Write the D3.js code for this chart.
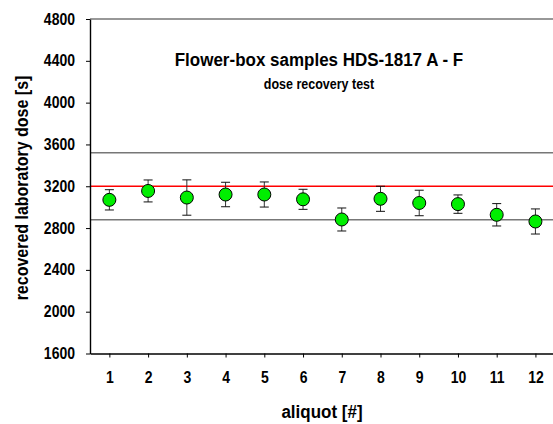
<!DOCTYPE html>
<html>
<head>
<meta charset="utf-8">
<script src="https://cdn.jsdelivr.net/npm/d3@7"></script>
<style>
  body { margin: 0; background: #fff; }
  text {
    font-family: Arial, "Liberation Sans", sans-serif;
    font-weight: bold;
    fill: #000;
  }
  /* police un peu étirée en hauteur */
  text:not(.ylab) {
    transform-box: fill-box;
    transform-origin: center;
    transform: scaleY(1.12);
  }
</style>
</head>
<body>
<div id="chart"></div>
<script>
// aliquots and recovered doses (s) with their errors
const aliquots = [1, 2, 3, 4, 5, 6, 7, 8, 9, 10, 11, 12];
const doses = [3070, 3155, 3092, 3121, 3121, 3075, 2882, 3080, 3040, 3029, 2927, 2863];
const errors = [97, 105, 169, 117, 120, 96, 110, 120, 122, 88, 107, 120];

// given dose and the +/-10% band
const givenDose = 3200;
const bandLines = [3520, 2880];

const yTicks = [1600, 2000, 2400, 2800, 3200, 3600, 4000, 4400, 4800];

const data = aliquots.map((a, i) => ({ aliquot: a, dose: doses[i], err: errors[i] }));

const W = 553, H = 424;
const margin = { top: 19, left: 90, bottom: 70.5 };
const plotW = 464.8;
const plotH = H - margin.top - margin.bottom;

const svg = d3.select("#chart")
  .append("svg")
  .attr("width", W)
  .attr("height", H);

const chart = svg.append("g")
  .attr("transform", `translate(${margin.left},${margin.top})`);

const x = d3.scaleLinear().domain([0.5, 12.5]).range([0, plotW]);
const y = d3.scaleLinear().domain([1600, 4800]).range([plotH, 0]);

//------ cadre haut
chart.append("line")
  .attr("x1", 0).attr("x2", plotW)
  .attr("y1", y(4800)).attr("y2", y(4800))
  .attr("stroke", "#333").attr("stroke-width", 1.2);

//------ lignes +/-10%
chart.selectAll(".band")
  .data(bandLines)
  .enter()
  .append("line")
  .attr("class", "band")
  .attr("x1", 0).attr("x2", plotW)
  .attr("y1", d => y(d)).attr("y2", d => y(d))
  .attr("stroke", "#777").attr("stroke-width", 1.6);

//------ dose donnée
chart.append("line")
  .attr("x1", 0).attr("x2", plotW)
  .attr("y1", y(givenDose)).attr("y2", y(givenDose))
  .attr("stroke", "#ff0000").attr("stroke-width", 1.6);

//------ axes
const yAxis = chart.append("g")
  .call(d3.axisLeft(y).tickValues(yTicks).tickSize(4).tickSizeOuter(0).tickPadding(11).tickFormat(d3.format("d")));
yAxis.select(".domain").attr("stroke-width", 1.4);
yAxis.selectAll("text").style("font-size", "14px");

const xAxis = chart.append("g")
  .attr("transform", `translate(0,${plotH})`)
  .call(d3.axisBottom(x).tickValues(aliquots).tickSize(4).tickSizeOuter(0).tickPadding(15).tickFormat(d3.format("d")));
xAxis.select(".domain").attr("stroke-width", 1.4);
xAxis.selectAll("text").style("font-size", "14px");

//------ barres d'erreur
const pts = chart.selectAll(".pt")
  .data(data)
  .enter()
  .append("g")
  .attr("class", "pt");

pts.append("line")
  .attr("x1", d => x(d.aliquot)).attr("x2", d => x(d.aliquot))
  .attr("y1", d => y(d.dose + d.err)).attr("y2", d => y(d.dose - d.err))
  .attr("stroke", "#333").attr("stroke-width", 1);

pts.selectAll(".cap")
  .data(d => [{ a: d.aliquot, v: d.dose + d.err }, { a: d.aliquot, v: d.dose - d.err }])
  .enter()
  .append("line")
  .attr("class", "cap")
  .attr("x1", d => x(d.a) - 4.5).attr("x2", d => x(d.a) + 4.5)
  .attr("y1", d => y(d.v)).attr("y2", d => y(d.v))
  .attr("stroke", "#111").attr("stroke-width", 1);

pts.append("circle")
  .attr("cx", d => x(d.aliquot))
  .attr("cy", d => y(d.dose))
  .attr("r", 6.5)
  .attr("fill", "#00ee00")
  .attr("stroke", "#000")
  .attr("stroke-width", 1);

//------ titres
svg.append("text")
  .attr("x", 319).attr("y", 65)
  .attr("text-anchor", "middle")
  .style("font-size", "17px")
  .text("Flower-box samples HDS-1817 A - F");

svg.append("text")
  .attr("x", 319).attr("y", 88)
  .attr("text-anchor", "middle")
  .style("font-size", "12.5px")
  .text("dose recovery test");

svg.append("text")
  .attr("x", 322).attr("y", 417)
  .attr("text-anchor", "middle")
  .style("font-size", "17px")
  .text("aliquot [#]");

svg.append("text")
  .attr("class", "ylab")
  .attr("transform", "translate(28,188) rotate(-90) scale(1,1.12)")
  .attr("text-anchor", "middle")
  .style("font-size", "16px")
  .text("recovered laboratory dose [s]");
</script>
</body>
</html>
